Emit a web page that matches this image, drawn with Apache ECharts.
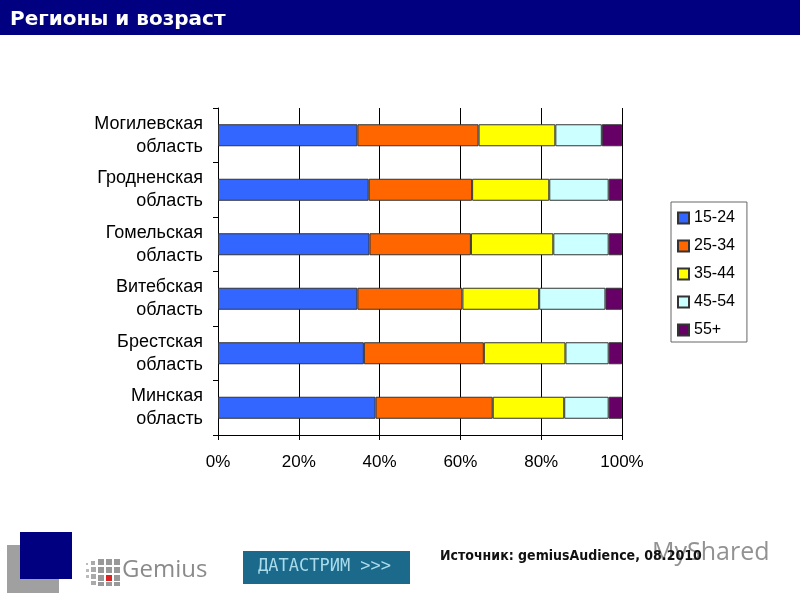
<!DOCTYPE html>
<html><head><meta charset="utf-8">
<script src="https://cdn.jsdelivr.net/npm/echarts@6/dist/echarts.min.js"></script>
<style>html,body{margin:0;padding:0;background:#fff}#c{width:800px;height:600px}</style>
</head><body><div id="c"></div>
<script>
const regions = ['Могилевская\nобласть','Гродненская\nобласть','Гомельская\nобласть','Витебская\nобласть','Брестская\nобласть','Минская\nобласть'];
const ageGroups = ['15-24','25-34','35-44','45-54','55+'];
const s15_24 = [34.5, 37.3, 37.5, 34.5, 36.1, 39.0];
const s25_34 = [30.0, 25.6, 25.1, 26.0, 29.7, 29.0];
const s35_44 = [19.0, 19.1, 20.4, 19.0, 20.2, 17.7];
const s45_54 = [11.5, 14.7, 13.7, 16.4, 10.7, 11.0];
const s55 = [5.0, 3.3, 3.3, 4.1, 3.3, 3.3];
const xTicks = [0, 20, 40, 60, 80, 100];
const colors = ['#3366FF','#FF6600','#FFFF00','#CCFFFF','#660066'];
const seriesData = [s15_24, s25_34, s35_44, s45_54, s55];

const chart = echarts.init(document.getElementById('c'), null, {renderer:'canvas'});
const font = 'Liberation Sans, Arial, sans-serif';
chart.setOption({
  animation: false,
  backgroundColor: '#fff',
  textStyle: {fontFamily: font},
  grid: {left: 218, right: 178, top: 108, bottom: 165, containLabel: false},
  xAxis: {
    type: 'value', min: xTicks[0], max: xTicks[xTicks.length-1], interval: 20,
    axisLine: {show: true, lineStyle: {color: '#000', width: 1}},
    axisTick: {show: true, length: 5, lineStyle: {color: '#000'}},
    splitLine: {show: true, lineStyle: {color: '#000', width: 1}},
    axisLabel: {formatter: '{value}%', fontSize: 17, color: '#000', margin: 19, fontFamily: font}
  },
  yAxis: {
    type: 'category', data: regions, inverse: true,
    axisLine: {show: true, lineStyle: {color: '#000', width: 1}},
    axisTick: {show: true, length: 5, lineStyle: {color: '#000'}},
    axisLabel: {fontSize: 18, color: '#000', lineHeight: 23, align: 'right', margin: 15, fontFamily: font}
  },
  legend: {
    orient: 'vertical', left: 671, top: 202,
    data: ageGroups,
    itemWidth: 11, itemHeight: 11, itemGap: 12,
    padding: [8, 12, 4, 6],
    borderColor: '#666', borderWidth: 1,
    icon: 'rect',
    textStyle: {fontSize: 16, color: '#000', fontFamily: font}
  },
  series: ageGroups.map((name, i) => ({
    name, type: 'bar', stack: 'total', data: seriesData[i], barWidth: 22,
    itemStyle: {color: colors[i], borderColor: '#333', borderWidth: 1}
  })),
  graphic: [
    {type: 'rect', left: 0, top: 0, shape: {width: 800, height: 35}, style: {fill: '#000080'}, z: 10},
    {type: 'text', left: 10, top: 10, style: {text: 'Регионы и возраст', fill: '#fff', font: 'bold 20px "DejaVu Sans", Verdana, sans-serif'}, z: 11},
    {type: 'rect', left: 7, top: 545, shape: {width: 52, height: 48}, style: {fill: '#a0a0a0'}, z: 10},
    {type: 'rect', left: 20, top: 532, shape: {width: 52, height: 47}, style: {fill: '#000080'}, z: 11},
    {type: 'group', left: 86, top: 559, z: 10, children: [
      {type:'rect', shape:{x:0,y:4,width:2,height:2}, style:{fill:'#bbb'}},
      {type:'rect', shape:{x:0,y:10,width:3,height:3}, style:{fill:'#bbb'}},
      {type:'rect', shape:{x:0,y:16,width:3,height:3}, style:{fill:'#bbb'}},
      {type:'rect', shape:{x:5,y:2,width:4,height:4}, style:{fill:'#aaa'}},
      {type:'rect', shape:{x:5,y:8,width:5,height:5}, style:{fill:'#aaa'}},
      {type:'rect', shape:{x:5,y:15,width:5,height:5}, style:{fill:'#aaa'}},
      {type:'rect', shape:{x:5,y:22,width:5,height:4}, style:{fill:'#aaa'}},
      {type:'rect', shape:{x:12,y:0,width:6,height:6}, style:{fill:'#999'}},
      {type:'rect', shape:{x:12,y:8,width:6,height:6}, style:{fill:'#999'}},
      {type:'rect', shape:{x:12,y:16,width:6,height:6}, style:{fill:'#999'}},
      {type:'rect', shape:{x:12,y:23,width:6,height:4}, style:{fill:'#999'}},
      {type:'rect', shape:{x:20,y:0,width:6,height:6}, style:{fill:'#999'}},
      {type:'rect', shape:{x:20,y:8,width:6,height:6}, style:{fill:'#999'}},
      {type:'rect', shape:{x:20,y:16,width:6,height:6}, style:{fill:'#dd2222'}},
      {type:'rect', shape:{x:20,y:23,width:6,height:4}, style:{fill:'#999'}},
      {type:'rect', shape:{x:28,y:0,width:6,height:6}, style:{fill:'#999'}},
      {type:'rect', shape:{x:28,y:8,width:6,height:6}, style:{fill:'#999'}},
      {type:'rect', shape:{x:28,y:16,width:6,height:6}, style:{fill:'#999'}},
      {type:'rect', shape:{x:28,y:23,width:6,height:4}, style:{fill:'#999'}}
    ]},
    {type: 'text', left: 122, top: 558, style: {text: 'Gemius', fill: '#8a8a8a', font: '24px "Open Sans", sans-serif'}, z: 10},
    {type: 'rect', left: 243, top: 551, shape: {width: 167, height: 33}, style: {fill: '#1b6a8c'}, z: 10},
    {type: 'text', left: 258, top: 558, style: {text: 'ДАТАСТРИМ >>>', fill: '#a9dbea', font: '17px "DejaVu Sans Mono", monospace'}, z: 11},
    {type: 'text', left: 440, top: 549, style: {text: 'Источник: gemiusAudience, 08.2010', fill: '#111', font: 'bold 14px "DejaVu Sans Condensed", "DejaVu Sans", sans-serif'}, z: 11},
    {type: 'text', left: 652, top: 540, style: {text: 'MyShared', fill: 'rgba(110,110,110,0.75)', font: '25px "Open Sans", sans-serif'}, z: 10}
  ]
});
</script></body></html>
